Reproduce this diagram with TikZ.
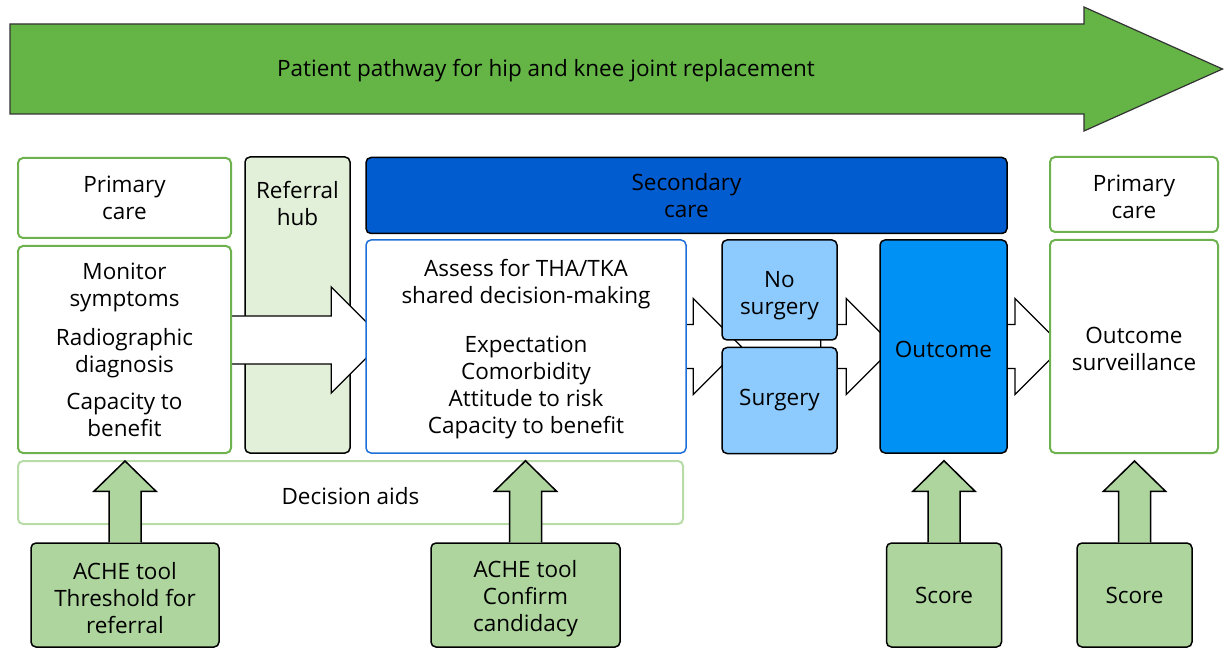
\documentclass[tikz,border=0pt]{standalone}
\usepackage{fontspec}
\setmainfont{Open Sans}
\usetikzlibrary{calc}
\pgfdeclarelayer{back}
\pgfdeclarelayer{mid}
\pgfsetlayers{back,mid,main}
\definecolor{bigarrow}{HTML}{64B446}
\definecolor{pcgreen}{HTML}{6DB24F}
\definecolor{hubfill}{HTML}{E2F0D9}
\definecolor{secblue}{HTML}{005CCF}
\definecolor{assessblue}{HTML}{1F6FD8}
\definecolor{lightblue}{HTML}{8DCBFF}
\definecolor{outblue}{HTML}{0091F5}
\definecolor{aidsgreen}{HTML}{B7DCA7}
\definecolor{toolgreen}{HTML}{ADD59D}
\newcommand\toolup[2]{%
  \draw[toolarrow] ($(#1.north)+(-16,0)$) -- ($(#1.north)+(-16,-51)$) -- ($(#1.north)+(-31,-51)$)
    -- ($(#1.north |- #2.south)+(0,7)$) -- ($(#1.north)+(31,-51)$) -- ($(#1.north)+(16,-51)$)
    -- ($(#1.north)+(16,0)$);}
\begin{document}
\begin{tikzpicture}[x=1pt,y=-1pt,
  every node/.style={font=\fontsize{22.5}{27}\selectfont, align=center, inner sep=0pt},
  txt/.style={anchor=center, align=center, font=\fontsize{22.5}{27}\selectfont, yshift=-#1},
  box/.style={rectangle, rounded corners=5pt, line width=1.5pt},
  greenbox/.style={box, draw=pcgreen, fill=white, line width=2pt},
  hubbox/.style={box, draw=black, fill=hubfill},
  secbox/.style={box, draw=black, fill=secblue},
  assessbox/.style={box, draw=assessblue, fill=white},
  splitbox/.style={box, draw=black, fill=lightblue},
  outbox/.style={box, draw=black, fill=outblue},
  aidsbox/.style={box, draw=aidsgreen, fill=white, line width=2pt},
  toolbox/.style={box, draw=black, fill=toolgreen},
  blockarrow/.style={draw=black, fill=white, line width=1.3pt, line join=miter},
  toolarrow/.style={draw=black, fill=toolgreen, line width=1.5pt, line join=miter},
  bigarrowstyle/.style={draw=black!80, fill=bigarrow, line width=1.2pt, line join=miter}]
\useasboundingbox (0,0) rectangle (1224,660);

% top pathway arrow
\draw[bigarrowstyle] (10,24) -- (1084,24) -- (1084,7) -- (1222.5,69) -- (1084,131) -- (1084,114) -- (10,114) -- cycle;
\node (title) at (546,70.5) {Patient pathway for hip and knee joint replacement};

% boxes
\node[greenbox, minimum width=213, minimum height=80] (pc1) at (124.5,198) {Primary\\care};
\node[greenbox, minimum width=213, minimum height=207] (mon) at (124.5,349.5)
  {Monitor\\symptoms\\[12pt]Radiographic\\diagnosis\\[10pt]Capacity to\\benefit};
\begin{pgfonlayer}{back}
\node[hubbox, minimum width=105, minimum height=296,
  label={[txt=47.5pt]north:Referral\\hub}] (hub) at (297.5,305) {};
\end{pgfonlayer}
\node[secbox, minimum width=641, minimum height=76] (sec) at (686.5,195.5) {Secondary\\care};
\node[assessbox, minimum width=320, minimum height=213,
  label={[txt=3pt]center:Assess for THA/TKA\\shared decision-making\\[22pt]Expectation\\Comorbidity\\Attitude to risk\\Capacity to benefit}] (assess) at (526,346.5) {};
\node[splitbox, minimum width=115, minimum height=100,
  label={[txt=6pt]center:No\\surgery}] (nos) at (779.5,290) {};
\node[splitbox, minimum width=115, minimum height=106] (sur) at (779.5,400.5) {Surgery};
\node[outbox, minimum width=127, minimum height=213,
  label={[txt=3pt]center:Outcome}] (out) at (943.5,346.5) {};
\node[greenbox, minimum width=168, minimum height=75,
  label={[txt=2pt]center:Primary\\care}] (pc2) at (1134,194.5) {};
\node[greenbox, minimum width=168, minimum height=213,
  label={[txt=2pt]center:Outcome\\surveillance}] (surv) at (1134,346.5) {};
\node[aidsbox, minimum width=665, minimum height=63,
  label={[txt=4pt]center:Decision aids}] (aids) at (350.5,492.5) {};
\node[toolbox, minimum width=188, minimum height=104,
  label={[txt=3pt]center:ACHE tool\\Threshold for\\referral}] (ache1) at (125,595) {};
\node[toolbox, minimum width=189, minimum height=104,
  label={[txt=3.5pt]center:ACHE tool\\Confirm\\candidacy}] (ache2) at (525.5,595) {};
\node[toolbox, minimum width=115, minimum height=104] (score1) at (944,595) {Score};
\node[toolbox, minimum width=115, minimum height=104] (score2) at (1134.5,595) {Score};

% horizontal block arrows
\begin{pgfonlayer}{mid}
\draw[blockarrow] ($(mon.east |- 0,340)+(-6,-24)$) -- ($(assess.west |- 0,340)+(-34,-24)$)
  -- ($(assess.west |- 0,340)+(-34,-53)$) -- ($(assess.west |- 0,340)+(19,0)$)
  -- ($(assess.west |- 0,340)+(-34,53)$) -- ($(assess.west |- 0,340)+(-34,24)$)
  -- ($(mon.east |- 0,340)+(-6,24)$);
\draw[blockarrow] ($(assess.east |- 0,346.5)+(-6,-22)$) -- ($(nos.west |- 0,346.5)+(-28,-22)$)
  -- ($(nos.west |- 0,346.5)+(-28,-48)$) -- ($(nos.west |- 0,346.5)+(20,0)$)
  -- ($(nos.west |- 0,346.5)+(-28,48)$) -- ($(nos.west |- 0,346.5)+(-28,22)$)
  -- ($(assess.east |- 0,346.5)+(-6,22)$);
\draw[blockarrow] ($(nos.east |- 0,346.5)+(-17,-22)$) -- ($(out.west |- 0,346.5)+(-33,-22)$)
  -- ($(out.west |- 0,346.5)+(-33,-48)$) -- ($(out.west |- 0,346.5)+(15,0)$)
  -- ($(out.west |- 0,346.5)+(-33,48)$) -- ($(out.west |- 0,346.5)+(-33,22)$)
  -- ($(nos.east |- 0,346.5)+(-17,22)$) -- cycle;
\draw[blockarrow] ($(out.east |- 0,346.5)+(-7,-22)$) -- ($(surv.west |- 0,346.5)+(-34,-22)$)
  -- ($(surv.west |- 0,346.5)+(-34,-48)$) -- ($(surv.west |- 0,346.5)+(14,0)$)
  -- ($(surv.west |- 0,346.5)+(-34,48)$) -- ($(surv.west |- 0,346.5)+(-34,22)$)
  -- ($(out.east |- 0,346.5)+(-7,22)$);
\end{pgfonlayer}

% tool arrows
\toolup{ache1}{mon}
\toolup{ache2}{assess}
\toolup{score1}{out}
\toolup{score2}{surv}
\end{tikzpicture}
\end{document}
